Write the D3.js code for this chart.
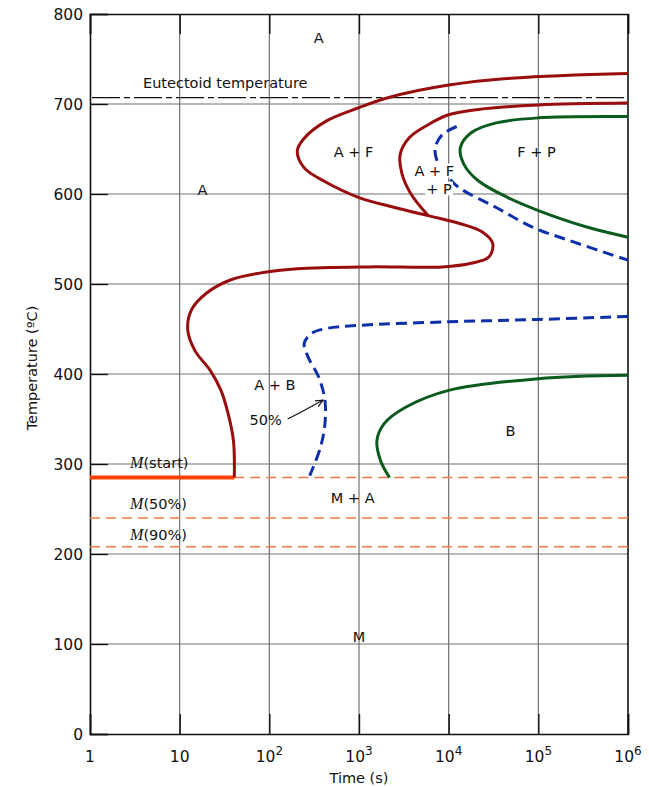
<!DOCTYPE html>
<html><head><meta charset="utf-8">
<script src="https://cdn.jsdelivr.net/npm/d3@7"></script>
<style>
body{margin:0;background:#fff;}
text{font-family:"DejaVu Sans",sans-serif;fill:#111;}
</style></head>
<body><svg id="c" width="649" height="787"></svg>
<script>
// ---- data (time in s, temperature in °C) ----
const xTicks = [1, 10, 100, 1000, 10000, 100000, 1000000];
const xTickExp = [0, 1, 2, 3, 4, 5, 6];
const yTicks = [0, 100, 200, 300, 400, 500, 600, 700, 800];

// start of transformation (outer red curve)
const startTime = [1e6, 55000, 10000, 2100, 1000, 430, 245, 205, 245, 430, 1000, 2500, 5900, 13500, 23500, 31000, 28000, 17800, 8500, 1300, 205, 89, 38, 20, 13.5, 12.3, 14.8, 21.9, 28.8, 34.7, 39.8, 40.7];
const startTemp = [734, 729, 721, 707, 696, 681, 662, 648, 629, 613, 596, 585, 576, 567, 558, 545, 530, 523, 519, 519, 517, 513, 505, 490, 471, 449, 426, 404, 382, 356, 326, 285];
// pearlite start (inner red curve)
const pStartTime = [1e6, 1e5, 21400, 10000, 5900, 3630, 2880, 3020, 3800, 5900];
const pStartTemp = [701, 699, 694, 688, 677, 662.5, 644, 622, 600, 576];
// 50% curve, upper
const half1Time = [12300, 8500, 7080, 7410, 8500, 12300, 33900, 87000, 219000, 1e6];
const half1Temp = [675, 666, 651.5, 637, 627.6, 609, 585, 563, 548.5, 526.5];
// 50% curve, lower
const half2Time = [1e6, 1e5, 1e4, 1000, 430, 295, 245, 270, 355, 417, 417, 372, 282];
const half2Temp = [464, 460.6, 458, 454, 450.5, 445, 434, 419, 396.7, 370.7, 344.6, 318.6, 287];
// finish, upper (F+P)
const finish1Time = [1e6, 1e5, 33900, 17800, 13500, 14800, 21400, 45700, 1e5, 355000, 1e6];
const finish1Temp = [686, 684.6, 679, 668, 651.5, 633, 614.7, 596, 581.6, 563, 552];
// finish, lower (B)
const finish2Time = [1e6, 1e5, 1e4, 3310, 1900, 1585, 1740, 2190];
const finish2Temp = [398.5, 394.8, 381.8, 363, 344.6, 326, 303.7, 285];

const eutectoidTemp = 707;
const msTemp = 285, m50Temp = 240, m90Temp = 208;
const msEndTime = 40.7;

const regionLabels = ["A", "A + F", "F + P", "A + F", "+ P", "A", "A + B", "50%", "B", "M + A", "M"];
const regionTime = [355, 870, 95500, 6900, 7800, 18, 115, 91, 49000, 850, 1000];
const regionTemp = [773, 647, 647, 626, 606, 604, 388, 349, 336.7, 262, 108];
const regionMask = [false, false, false, true, true, false, false, false, false, false, false];

const mLabels = ["(start)", "(50%)", "(90%)"];
const mLabelTemp = [301, 255.5, 221];
const mLabelTime = 2.8;

const arrowTime = [160, 230, 398];
const arrowTemp = [350, 358, 371];

// ---- layout ----
const svg = d3.select("#c");
const L = 90, R = 628, T = 14, B = 734;
const x = d3.scaleLog().domain([1, 1e6]).range([L, R]);
const y = d3.scaleLinear().domain([0, 800]).range([B, T]);

const defs = svg.append("defs");
defs.append("marker").attr("id","ah").attr("viewBox","0 0 10 10").attr("refX",9).attr("refY",5)
  .attr("markerWidth",7).attr("markerHeight",7).attr("orient","auto")
  .append("path").attr("d","M0,1 L9,5 L0,9").attr("fill","none").attr("stroke","#111").attr("stroke-width",1.4);

// grid
const g = svg.append("g");
g.selectAll(".gx").data(xTicks.slice(1,-1)).join("line")
  .attr("x1",d=>x(d)).attr("x2",d=>x(d)).attr("y1",T).attr("y2",B)
  .attr("stroke","#707070").attr("stroke-width",1.2);
g.selectAll(".gy").data(yTicks.slice(1,-1)).join("line")
  .attr("x1",L).attr("x2",R).attr("y1",d=>y(d)).attr("y2",d=>y(d))
  .attr("stroke","#707070").attr("stroke-width",1.2);

// axes (inward ticks)
const xb = d3.axisBottom(x).tickValues(xTicks).tickSize(-20).tickFormat("");
const xt = d3.axisTop(x).tickValues(xTicks).tickSize(-20).tickFormat("");
const yl = d3.axisLeft(y).tickValues(yTicks).tickSize(-18).tickFormat("");
[["translate(0,"+B+")", xb], ["translate(0,"+T+")", xt], ["translate("+L+",0)", yl]].forEach(([tr, ax])=>{
  const a = svg.append("g").attr("transform", tr).call(ax);
  a.selectAll("path").attr("stroke","#111").attr("stroke-width",1.6);
  a.selectAll("line").attr("stroke","#111").attr("stroke-width",1.4);
});
svg.append("line").attr("x1",R).attr("x2",R).attr("y1",T).attr("y2",B).attr("stroke","#111").attr("stroke-width",1.6);

// tick labels
svg.selectAll(".yl").data(yTicks).join("text")
  .attr("x",L-7).attr("y",d=>y(d)+6).attr("text-anchor","end")
  .attr("font-size",15.5).text(d=>d);
const xl = svg.selectAll(".xl").data(xTicks).join("text")
  .attr("x",d=>x(d)).attr("y",B+28).attr("text-anchor","middle").attr("font-size",15.5);
xl.each(function(d,i){
  const t = d3.select(this);
  if (i===0) t.text("1");
  else if (i===1) t.text("10");
  else { t.append("tspan").text("10"); t.append("tspan").attr("dy",-7).attr("font-size",12).text(xTickExp[i]); }
});
svg.append("text").attr("x",x(1000)).attr("y",783).attr("text-anchor","middle").attr("font-size",14.5).text("Time (s)");
svg.append("text").attr("transform","translate(37,"+(y(400)-6)+") rotate(-90)").attr("text-anchor","middle")
  .attr("font-size",14.5).text("Temperature (ºC)");

// eutectoid
svg.append("line").attr("x1",L+2).attr("x2",R).attr("y1",y(eutectoidTemp)).attr("y2",y(eutectoidTemp))
  .attr("stroke","#111").attr("stroke-width",1.3).attr("stroke-dasharray","28,4,6,4");
svg.append("text").attr("x",x(3.9)).attr("y",y(eutectoidTemp)).attr("dy",-10).attr("font-size",14.5)
  .text("Eutectoid temperature");

// martensite lines
svg.append("line").attr("x1",x(1)).attr("x2",x(msEndTime)).attr("y1",y(msTemp)).attr("y2",y(msTemp))
  .attr("stroke","#ff4000").attr("stroke-width",4);
[[msTemp, msEndTime],[m50Temp,1],[m90Temp,1]].forEach(([t,s])=>{
  svg.append("line").attr("x1",x(s)).attr("x2",R).attr("y1",y(t)).attr("y2",y(t))
    .attr("stroke","#f47a4a").attr("stroke-width",1.6).attr("stroke-dasharray","10,6");
});

// curves
const line = d3.line().x(d=>x(d[0])).y(d=>y(d[1])).curve(d3.curveCatmullRom.alpha(0.5));
function curve(ts, ps, color, dash){
  const p = svg.append("path").datum(ts.map((t,i)=>[t,ps[i]])).attr("d", line)
    .attr("fill","none").attr("stroke",color).attr("stroke-width",3).attr("stroke-linecap","butt");
  if (dash) p.attr("stroke-dasharray",dash);
}
curve(startTime, startTemp, "#980d0d");
curve(pStartTime, pStartTemp, "#980d0d");
curve(half1Time, half1Temp, "#0d2fa8", "11,6");
curve(half2Time, half2Temp, "#0d2fa8", "11,6");
curve(finish1Time, finish1Temp, "#0b5a1e");
curve(finish2Time, finish2Temp, "#0b5a1e");

// arrow
svg.append("path").datum(arrowTime.map((t,i)=>[t,arrowTemp[i]]))
  .attr("d", d3.line().x(d=>x(d[0])).y(d=>y(d[1])).curve(d3.curveNatural))
  .attr("fill","none").attr("stroke","#111").attr("stroke-width",1.2).attr("marker-end","url(#ah)");

// region labels
const rl = svg.selectAll(".rl").data(regionLabels).join("g");
rl.each(function(d,i){
  const gg = d3.select(this);
  const t = gg.append("text").attr("x",x(regionTime[i])).attr("y",y(regionTemp[i])+5)
    .attr("text-anchor","middle").attr("font-size",14.5).text(d);
  if (regionMask[i]) {
    const bb = t.node().getBBox();
    gg.insert("rect","text").attr("x",bb.x-1).attr("y",bb.y+1).attr("width",bb.width+2).attr("height",bb.height-2).attr("fill","#fff");
  }
});

// M labels
mLabels.forEach((s,i)=>{
  const t = svg.append("text").attr("x",x(mLabelTime)).attr("y",y(mLabelTemp[i])+5).attr("font-size",14.5);
  t.append("tspan").attr("font-family","'Liberation Serif','DejaVu Serif',serif").attr("font-style","italic").attr("font-size",16).text("M");
  t.append("tspan").text(s);
});
</script></body></html>
